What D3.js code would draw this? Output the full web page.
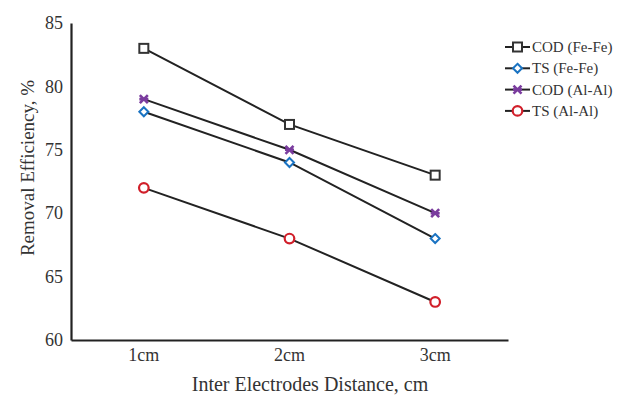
<!DOCTYPE html>
<html>
<head>
<meta charset="utf-8">
<script src="https://cdn.jsdelivr.net/npm/d3@7"></script>
<style>
  body { margin: 0; background: #fff; }
  text { font-family: "Liberation Serif", "DejaVu Serif", serif; fill: #333; }
</style>
</head>
<body>
<div id="chart"></div>
<script>
const distances = ["1cm", "2cm", "3cm"];
const seriesNames = ["COD (Fe-Fe)", "TS (Fe-Fe)", "COD (Al-Al)", "TS (Al-Al)"];
const codFe = [83, 77, 73];
const tsFe = [78, 74, 68];
const codAl = [79, 75, 70];
const tsAl = [72, 68, 63];
const yTicks = [60, 65, 70, 75, 80, 85];

const width = 617, height = 395;
const margin = { top: 23, right: 109, bottom: 55, left: 71 };

const series = [
  { name: seriesNames[0], values: codFe, color: "#333333", shape: "square" },
  { name: seriesNames[1], values: tsFe, color: "#1a73c2", shape: "diamond" },
  { name: seriesNames[2], values: codAl, color: "#7a3c9e", shape: "cross" },
  { name: seriesNames[3], values: tsAl, color: "#d11f2a", shape: "circle" },
];

const svg = d3.select("#chart").append("svg")
  .attr("width", width).attr("height", height);

const x = d3.scaleBand().domain(distances)
  .range([margin.left, width - margin.right]);
const y = d3.scaleLinear().domain([60, 85])
  .range([height - margin.bottom, margin.top]);

// axes
const xAxis = svg.append("g")
  .attr("transform", `translate(0,${height - margin.bottom})`)
  .call(d3.axisBottom(x).tickSize(0).tickPadding(8));
xAxis.select(".domain").attr("stroke", "#222").attr("stroke-width", 2.2);
xAxis.selectAll("text").attr("font-size", 18).attr("fill", "#333");

const yAxis = svg.append("g")
  .attr("transform", `translate(${margin.left},0)`)
  .call(d3.axisLeft(y).tickValues(yTicks).tickSize(0).tickPadding(8));
yAxis.select(".domain").attr("stroke", "#222").attr("stroke-width", 2.2);
yAxis.selectAll("text").attr("font-size", 18).attr("fill", "#333");

svg.append("text")
  .attr("x", 310)
  .attr("y", 391)
  .attr("text-anchor", "middle")
  .attr("font-size", 20)
  .text("Inter Electrodes Distance, cm");

svg.append("text")
  .attr("transform", "translate(34,168) rotate(-90)")
  .attr("text-anchor", "middle")
  .attr("font-size", 19)
  .text("Removal Efficiency, %");

// marker drawing
function drawMarker(g, shape, color) {
  if (shape === "square") {
    g.append("rect").attr("x", -4.5).attr("y", -4.5).attr("width", 9).attr("height", 9)
      .attr("fill", "#fff").attr("stroke", color).attr("stroke-width", 2);
  } else if (shape === "diamond") {
    g.append("path").attr("d", "M0,-4.5L4.5,0L0,4.5L-4.5,0Z")
      .attr("fill", "#fff").attr("stroke", color).attr("stroke-width", 2);
  } else if (shape === "cross") {
    g.append("path").attr("d", "M-4,-4L4,4M4,-4L-4,4M-4.5,0L4.5,0")
      .attr("stroke", color).attr("stroke-width", 2.6);
  } else {
    g.append("circle").attr("r", 4.8)
      .attr("fill", "#fff").attr("stroke", color).attr("stroke-width", 2.2);
  }
}

const line = d3.line()
  .x((d, i) => x(distances[i]) + x.bandwidth() / 2)
  .y(d => y(d));

series.forEach(s => {
  svg.append("path")
    .datum(s.values)
    .attr("fill", "none")
    .attr("stroke", "#222")
    .attr("stroke-width", 2)
    .attr("d", line);
  s.values.forEach((v, i) => {
    const g = svg.append("g")
      .attr("transform", `translate(${x(distances[i]) + x.bandwidth() / 2},${y(v)})`);
    drawMarker(g, s.shape, s.color);
  });
});

// legend
const legend = svg.append("g").attr("transform", "translate(505,47)");
series.forEach((s, i) => {
  const row = legend.append("g").attr("transform", `translate(0,${i * 21.3})`);
  row.append("line").attr("x1", 0).attr("x2", 25).attr("y1", 0).attr("y2", 0)
    .attr("stroke", "#222").attr("stroke-width", 2);
  const m = row.append("g").attr("transform", "translate(12.5,0)");
  drawMarker(m, s.shape, s.color);
  row.append("text").attr("x", 27).attr("y", 5)
    .attr("font-size", 15).text(s.name);
});
</script>
</body>
</html>
